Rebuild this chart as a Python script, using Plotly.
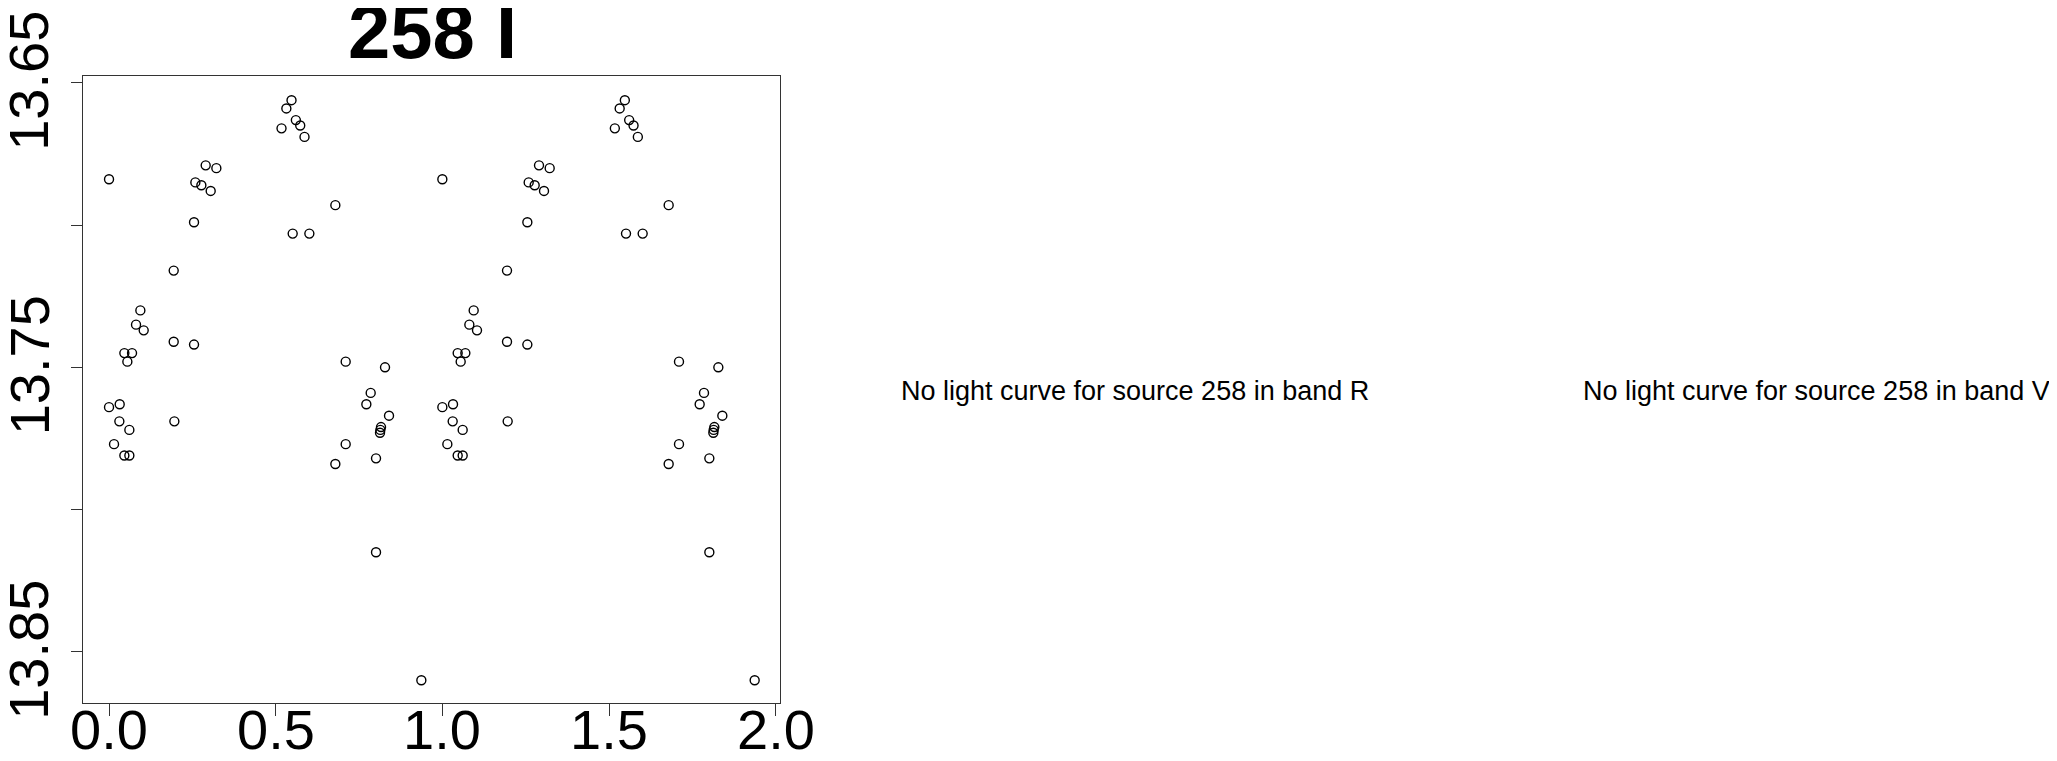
import plotly.graph_objects as go

# Phase-folded light curve of source 258, band I (one cycle; plotted twice)
phase = [0.000, 0.5475, 0.532, 0.5605, 0.5736, 0.5175, 0.5865, 0.290, 0.322, 0.259,
         0.277, 0.305, 0.255, 0.679, 0.551, 0.601, 0.194, 0.094, 0.081, 0.104,
         0.194, 0.255, 0.046, 0.069, 0.055, 0.710, 0.828, 0.785, 0.772, 0.000,
         0.032, 0.031, 0.061, 0.196, 0.840, 0.816, 0.814, 0.813, 0.015, 0.046,
         0.061, 0.710, 0.679, 0.801, 0.801, 0.937]
mag = [13.6839, 13.6561, 13.659, 13.6631, 13.665, 13.666, 13.669, 13.679, 13.680, 13.685,
       13.686, 13.688, 13.699, 13.693, 13.703, 13.703, 13.716, 13.730, 13.735, 13.737,
       13.741, 13.742, 13.745, 13.745, 13.748, 13.748, 13.750, 13.759, 13.763, 13.764,
       13.763, 13.769, 13.772, 13.769, 13.767, 13.771, 13.772, 13.773, 13.777, 13.781,
       13.781, 13.777, 13.784, 13.782, 13.815, 13.860]

x_ticks = [0.0, 0.5, 1.0, 1.5, 2.0]
x_labels = ["0.0", "0.5", "1.0", "1.5", "2.0"]
y_ticks = [13.65, 13.70, 13.75, 13.80, 13.85]
y_labels = ["13.65", "", "13.75", "", "13.85"]

title = "258 I"
missing_texts = ["No light curve for source 258 in band R",
                 "No light curve for source 258 in band V"]

# the page body adds an 8px margin, so the figure is sized to fill the window
W, H = 2049, 753
FONT = "Liberation Sans, Arial, Helvetica, sans-serif"

xs = phase + [p + 1 for p in phase]
ys = mag + mag

fig = go.Figure()
fig.add_trace(go.Scatter(
    x=xs, y=ys, mode="markers",
    marker=dict(symbol="circle-open", size=9, color="black", line=dict(width=1.4, color="black")),
    hoverinfo="x+y", showlegend=False,
))

# plot box in figure pixels
L, R, T, B = 74.7, 772.0, 68.0, 695.3
fig.update_layout(
    width=W, height=H,
    margin=dict(l=0, r=0, t=0, b=0, autoexpand=False),
    paper_bgcolor="white", plot_bgcolor="white",
    font=dict(family=FONT, color="black"),
    xaxis=dict(
        domain=[L / W, R / W], range=[-0.079, 2.013], automargin=False,
        tickvals=x_ticks, ticktext=[""] * len(x_ticks),
        ticks="outside", ticklen=12, tickwidth=1, tickcolor="#333",
        showline=True, linecolor="#333", linewidth=1.3, mirror=True,
        showgrid=False, zeroline=False,
    ),
    yaxis=dict(
        domain=[1 - B / H, 1 - T / H], range=[13.8681, 13.6476], automargin=False,
        tickvals=y_ticks, ticktext=[""] * len(y_ticks),
        ticks="outside", ticklen=11, tickwidth=1, tickcolor="#333",
        showline=True, linecolor="#333", linewidth=1.3, mirror=True,
        showgrid=False, zeroline=False,
    ),
)

# tick labels (R-style: large, y labels rotated, every other y label dropped)
for v, t in zip(x_ticks, x_labels):
    fig.add_annotation(
        text=t, x=v, xref="x", y=1 - 721 / H, yref="paper",
        xanchor="center", yanchor="middle", showarrow=False,
        font=dict(size=56, family=FONT, color="black"),
    )
for v, t in zip(y_ticks, y_labels):
    if t:
        fig.add_annotation(
            text=t, y=v, yref="y", yshift=2, x=21 / W, xref="paper", textangle=-90,
            xanchor="center", yanchor="middle", showarrow=False,
            font=dict(size=56, family=FONT, color="black"),
        )

fig.add_annotation(
    text="<b>" + title + "</b>", x=424 / W, y=1 - 24 / H,
    xref="paper", yref="paper", xanchor="center", yanchor="middle",
    showarrow=False, font=dict(size=76, family=FONT, color="black"),
)

fig.add_annotation(
    text=missing_texts[0], x=1127 / W, y=1 - 383 / H, xref="paper", yref="paper",
    xanchor="center", yanchor="middle", showarrow=False,
    font=dict(size=27, family=FONT, color="black"),
)
fig.add_annotation(
    text=missing_texts[1], x=1573 / W, y=1 - 383 / H, xref="paper", yref="paper",
    xanchor="left", yanchor="middle", showarrow=False,
    font=dict(size=27, family=FONT, color="black"),
)

fig.write_html("out.html")
